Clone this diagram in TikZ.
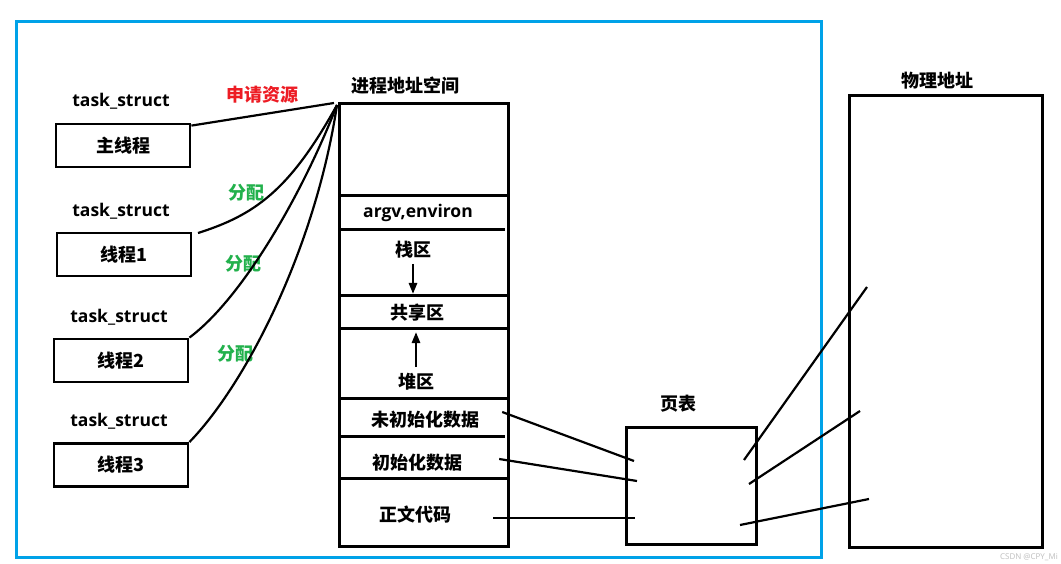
\documentclass[tikz,border=0pt]{standalone}
\usepackage{fontspec}
\setmainfont{Open Sans}
\newfontfamily\cjk{Noto Sans CJK SC}
\usetikzlibrary{arrows.meta}
\definecolor{frameblue}{HTML}{00A2E8}
\definecolor{pred}{HTML}{ED1C24}
\definecolor{pgreen}{HTML}{22B14C}
\begin{document}
\begin{tikzpicture}[x=1pt,y=-1pt,
  cj/.style={font=\fontsize{18}{20}\selectfont\cjk\bfseries, inner sep=0pt},
  lat/.style={font=\fontsize{17.5}{20}\selectfont\bfseries, inner sep=0pt},
  thbox/.style={draw, line width=2.8pt, minimum width=134pt, minimum height=43pt, inner sep=0pt,
                font=\fontsize{18}{20}\selectfont\cjk\bfseries},
  bigbox/.style={draw, line width=3pt, inner sep=0pt},
  conn/.style={line width=2.2pt},
  divider/.style={line width=3pt},
  growarrow/.style={line width=2.6pt, -{Triangle[length=11pt,width=8pt]}}
]
\useasboundingbox (0,0) rectangle (1061,564);
\fill[white] (0,0) rectangle (1061,564);

% outer blue frame
\draw[frameblue, line width=3pt] (16,22) rectangle (821,557);

% task_struct labels and thread boxes
\node[lat] (ts0) at (121,101) {task\_struct};
\node[lat] (ts1) at (121,211) {task\_struct};
\node[lat] (ts2) at (119,317) {task\_struct};
\node[lat] (ts3) at (119,421) {task\_struct};
\node[thbox] (t0) at (123,145.5) {主线程};
\node[thbox] (t1) at (124,254.5) {线程1};
\node[thbox] (t2) at (121,360.5) {线程2};
\node[thbox] (t3) at (121,465) {线程3};

% process address space column
\node[cj] (vaslbl) at (405,86) {进程地址空间};
\node[bigbox, minimum width=169pt, minimum height=442pt] (vas) at (423.5,325) {};
\coordinate (conv) at (337,105);
\draw[divider] (339,196) -- (508,196);
\draw[divider] (339,230) -- (505,230);
\draw[divider] (339,296) -- (508,296);
\draw[divider] (339,328) -- (508,328);
\draw[divider] (339,398) -- (508,398);
\draw[divider] (339,436) -- (505,436);
\draw[divider] (339,478) -- (508,478);
\node[lat] (argv) at (418,213) {argv,environ};
\node[cj] (stack) at (413,250) {栈区};
\node[cj] (shared) at (417,313) {共享区};
\node[cj] (heap) at (416,382) {堆区};
\node[cj] (bss) at (425,420) {未初始化数据};
\node[cj] (data) at (417,463) {初始化数据};
\node[cj] (text) at (415,515) {正文代码};
\coordinate (sdown) at (413,294);
\coordinate (hup) at (416,332);
\draw[growarrow] (413,264) -- (sdown);
\draw[growarrow] (416,367) -- (hup);

% thread to address space connectors
\node[cj, text=pred] (req) at (262,95) {申请资源};
\node[cj, text=pgreen] (a1) at (246,193) {分配};
\node[cj, text=pgreen] (a2) at (243,264) {分配};
\node[cj, text=pgreen] (a3) at (235,354) {分配};
\draw[conn] (t0.north east) ++(0,3) -- (334,103);
\draw[conn] (198,233) .. controls (255,215) and (290,190) .. (conv);
\draw[conn] (t2.north east) .. controls (240,300) and (300,200) .. (conv);
\draw[conn] (t3.north east) .. controls (245,385) and (315,250) .. (conv);

% page table
\node[cj] (ptlbl) at (678,404) {页表};
\node[bigbox, minimum width=130pt, minimum height=117pt] (pt) at (691,485.5) {};
\coordinate (pin1) at (634,461);
\coordinate (pin2) at (637,481);
\coordinate (pin3) at (635,518);
\coordinate (pout1) at (744,460);
\coordinate (pout2) at (749,484);
\coordinate (pout3) at (740,525);
\draw[conn] (bss.east) ++(23,-8) -- (pin1);
\draw[conn] (data.east) ++(37,-4) -- (pin2);
\draw[conn] (text.east) ++(42,3) -- (pin3);

% physical memory
\node[cj] (pmlbl) at (937,81) {物理地址};
\node[bigbox, minimum width=193pt, minimum height=451pt] (pm) at (945.5,321.5) {};
\coordinate (m1) at (867,287);
\coordinate (m2) at (860,411);
\coordinate (m3) at (869,499);
\draw[conn] (pout1) -- (m1);
\draw[conn] (pout2) -- (m2);
\draw[conn] (pout3) -- (m3);

% watermark
\node[anchor=north east, inner sep=0pt, text=black!25, font=\fontsize{8}{9}\selectfont] (wm) at (1058,553) {CSDN @CPY\_Mi};
\end{tikzpicture}
\end{document}
